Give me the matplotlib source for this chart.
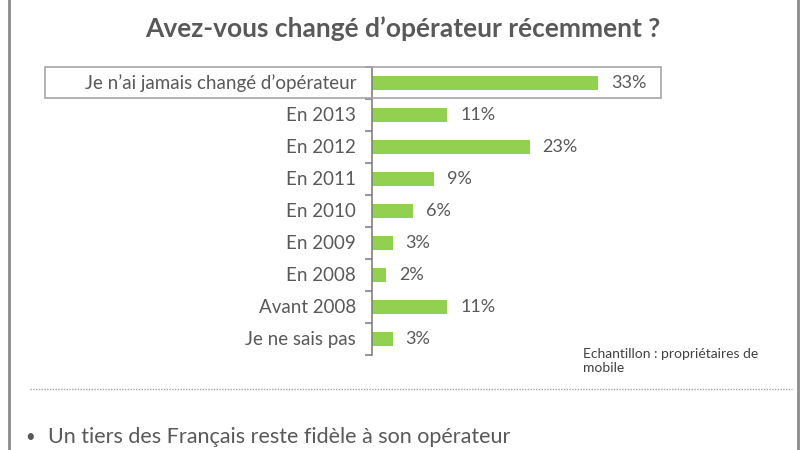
import matplotlib
matplotlib.use("Agg")
import matplotlib.pyplot as plt
from matplotlib.patches import Rectangle
from matplotlib.lines import Line2D

plt.rcParams['font.family'] = ['Lato', 'DejaVu Sans']

categories = ["Je n\u2019ai jamais changé d\u2019opérateur", "En 2013", "En 2012", "En 2011",
              "En 2010", "En 2009", "En 2008", "Avant 2008", "Je ne sais pas"]
values = [33, 11, 23, 9, 6, 3, 2, 11, 3]

title = "Avez-vous changé d\u2019opérateur récemment ?"
note = "Echantillon : propriétaires de\nmobile"
bullet = "Un tiers des Français reste fidèle à son opérateur"

grey = "#595959"
green = "#92D050"

fig = plt.figure(figsize=(8, 4.5), dpi=100)
ax = fig.add_axes([0.465, 0.211, 0.3425, 0.64])

pos = list(range(len(categories)))
ax.barh(pos, values, height=0.43, color=green)
ax.set_ylim(len(categories) - 0.5, -0.5)
ax.set_xlim(0, 40)

for p, v in zip(pos, values):
    ax.text(v + 1.9, p, f"{v}%", va="center", ha="left", fontsize=13, color=grey)

for s in ["top", "right", "bottom"]:
    ax.spines[s].set_visible(False)
ax.spines["left"].set_color("#808080")
ax.spines["left"].set_linewidth(1.2)
ax.set_xticks([])
ax.set_yticks([p - 0.5 for p in pos] + [len(categories) - 0.5])
ax.set_yticklabels([])
ax.tick_params(axis="y", length=5, color="#808080", width=1.2)
for p, c in zip(pos, categories):
    ax.text(-2.3, p, c, va="center", ha="right", fontsize=13.5, color=grey)

# highlight box around the first row
fig.add_artist(Rectangle((45 / 800, 1 - 98 / 450), 616 / 800, 31 / 450, transform=fig.transFigure,
                         fill=False, edgecolor="#a6a6a6", linewidth=1.2))

fig.text(0.504, 1 - 29 / 450, title, ha="center", va="center", fontsize=19,
         fontweight="bold", color=grey)
fig.text(583 / 800, 1 - 361 / 450, note, ha="left", va="center", fontsize=10,
         color="#404040", linespacing=1.3)

fig.add_artist(Line2D([30 / 800, 792 / 800], [1 - 389 / 450] * 2, transform=fig.transFigure,
                      color="#a0a0a0", linewidth=1, linestyle=(0, (1, 1))))
fig.text(25 / 800, 1 - 437 / 450, "\u2022", ha="left", va="center", fontsize=12, color=grey)
fig.text(48 / 800, 1 - 437 / 450, bullet, ha="left", va="center", fontsize=15.5, color=grey)

# outer frame sides
for x in [9 / 800, 798 / 800]:
    fig.add_artist(Line2D([x, x], [0, 1], transform=fig.transFigure, color="#8c8c8c", linewidth=2))

fig.savefig("out.png", dpi=100, facecolor="white")
